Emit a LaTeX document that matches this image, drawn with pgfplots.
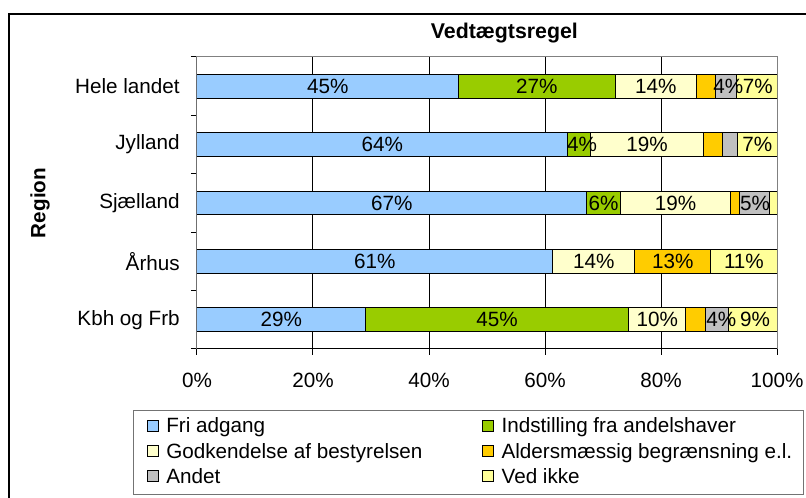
\documentclass[border=0pt]{standalone}
\usepackage{fontspec}
\setmainfont{Liberation Sans}
\usepackage{pgfplots}
\pgfplotsset{compat=1.18}
\definecolor{cFri}{HTML}{99CCFF}
\definecolor{cInd}{HTML}{99CC00}
\definecolor{cGod}{HTML}{FFFFCC}
\definecolor{cAld}{HTML}{FFCC00}
\definecolor{cAnd}{HTML}{C0C0C0}
\definecolor{cVed}{HTML}{FFFF99}
\pgfplotsset{common/.style={width=435pt,height=219pt,scale only axis,
  xmin=0,xmax=100,ymin=-0.5,ymax=4.5}}
\begin{document}
\fontsize{15.5}{18.5}\selectfont
\begin{tikzpicture}
\path[use as bounding box] (-147.75pt,-111.75pt) rectangle (456.75pt,261.75pt);
\draw[black, line width=1.1pt] (-141pt,-120pt) -- (-141pt,251.25pt) -- (470pt,251.25pt);
\begin{axis}[common,
  xbar stacked, bar width=0.41,
  axis line style={draw=black!50, line width=0.75pt},
  xmajorgrids, major grid style={black, line width=0.75pt},
  xtick={0,20,40,60,80,100},
  xticklabels={0\%,20\%,40\%,60\%,80\%,100\%},
  xtick pos=bottom, ytick pos=left,
  tick align=outside, major tick length=4.5pt,
  tick style={black, line width=0.75pt},
  ytick={-0.5,0.5,1.5,2.5,3.5,4.5},
  yticklabels={,,,,,},
  extra y ticks={0,1,2,3,4},
  extra y tick labels={Kbh og Frb,Århus,Sjælland,Jylland,Hele landet},
  extra y tick style={major tick length=0pt},
  yticklabel style={inner sep=0pt, xshift=-12.75pt},
  xticklabel style={inner sep=0pt, yshift=-13.0pt},
  title={Vedtægtsregel},
  title style={at={(0.530,1)}, anchor=base, yshift=7.5pt, font=\fontsize{16}{19}\selectfont\bfseries, inner sep=0pt},
  ylabel={Region},
  ylabel style={at={(-0.2707,0.5)}, anchor=center, font=\bfseries, inner sep=0pt},
  legend columns=2,
  legend cell align=left,
  legend image code/.code={\draw[#1,draw=black,line width=0.75pt] (0pt,-3.1pt) rectangle (8.25pt,5.15pt); \path (13.75pt,0pt);},
  legend style={at={(-0.1103,-0.2089)}, anchor=north west, draw=black!55, line width=0.9pt,
    fill=white, inner xsep=10pt, inner ysep=5pt, /tikz/column sep=0pt, /tikz/row sep=4.6pt,
    nodes={inner sep=0pt, text height=11.5pt, text depth=3pt}},
]
\addplot[fill=cFri, draw=black, line width=0.75pt] coordinates {(29.1,0) (61.3,1) (67.2,2) (63.9,3) (45.1,4)};
\addlegendentry{\makebox[237pt][l]{Fri adgang}}
\addplot[fill=cInd, draw=black, line width=0.75pt] coordinates {(45.3,0) (0,1) (5.8,2) (4.0,3) (27.0,4)};
\addlegendentry{\makebox[216.5pt][l]{Indstilling fra andelshaver}}
\addplot[fill=cGod, draw=black, line width=0.75pt] coordinates {(9.9,0) (14.2,1) (19.0,2) (19.4,3) (14.0,4)};
\addlegendentry{\makebox[237pt][l]{Godkendelse af bestyrelsen}}
\addplot[fill=cAld, draw=black, line width=0.75pt] coordinates {(3.3,0) (13.1,1) (1.6,2) (3.3,3) (3.3,4)};
\addlegendentry{\makebox[216.5pt][l]{Aldersmæssig begrænsning e.l.}}
\addplot[fill=cAnd, draw=black, line width=0.75pt] coordinates {(4.0,0) (0,1) (5.1,2) (2.6,3) (3.6,4)};
\addlegendentry{\makebox[237pt][l]{Andet}}
\addplot[fill=cVed, draw=black, line width=0.75pt] coordinates {(8.4,0) (11.4,1) (1.3,2) (6.8,3) (7.0,4)};
\addlegendentry{\makebox[216.5pt][l]{Ved ikke}}
\draw[black, line width=0.75pt] (rel axis cs:0,1) -- (rel axis cs:0,0) -- (rel axis cs:1,0);
\end{axis}
\begin{axis}[common, hide axis]
\addplot[only marks, mark=*, mark size=0pt, mark options={draw=none, fill=none},
  point meta=explicit symbolic, nodes near coords,
  every node near coord/.append style={anchor=center, inner sep=0pt, text=black}]
  coordinates {
  (22.55,4) [45\%] (58.6,4) [27\%] (79.1,4) [14\%] (91.6,4) [4\%] (96.7,4) [7\%]
  (31.95,3) [64\%] (66.4,3) [4\%] (77.6,3) [19\%] (96.6,3) [7\%]
  (33.6,2) [67\%] (70.1,2) [6\%] (82.5,2) [19\%] (96.2,2) [5\%]
  (30.65,1) [61\%] (68.4,1) [14\%] (82.05,1) [13\%] (94.3,1) [11\%]
  (14.55,0) [29\%] (51.75,0) [45\%] (79.35,0) [10\%] (90.4,0) [4\%] (96.2,0) [9\%]
  };
\end{axis}
\end{tikzpicture}
\end{document}
